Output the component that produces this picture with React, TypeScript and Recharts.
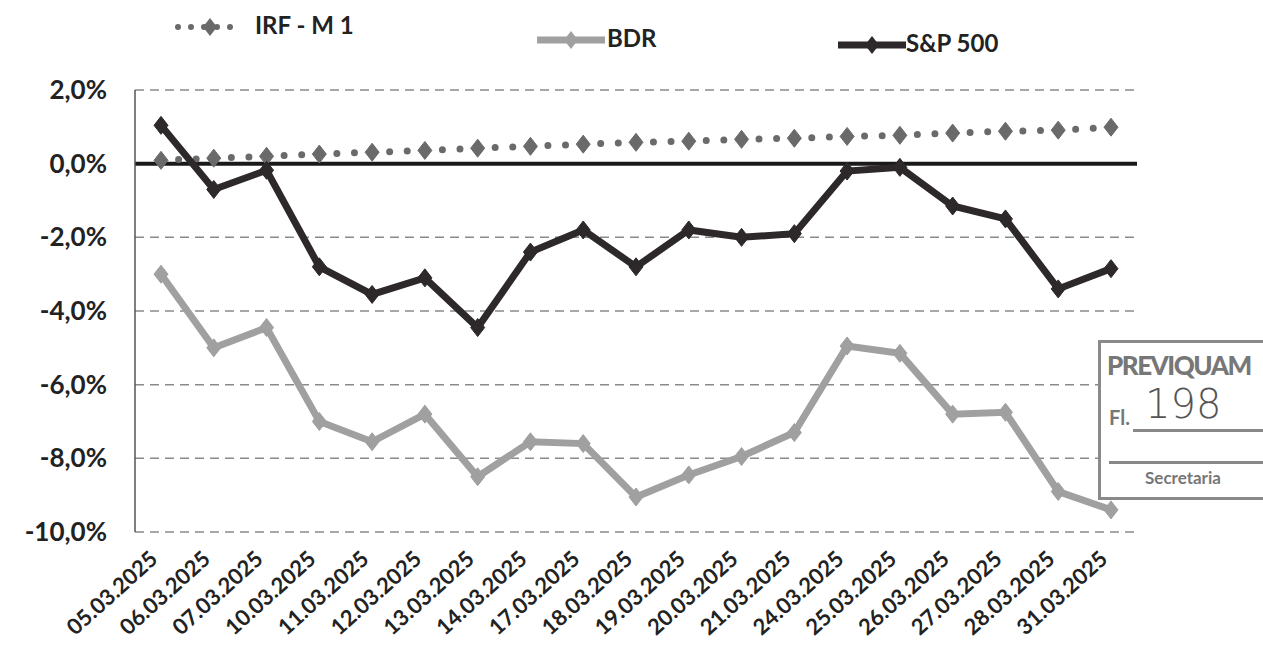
import React from 'react'
import { LineChart, Line, XAxis, YAxis, CartesianGrid, ReferenceLine } from 'recharts'

const dates = [
  '05.03.2025', '06.03.2025', '07.03.2025', '10.03.2025', '11.03.2025', '12.03.2025',
  '13.03.2025', '14.03.2025', '17.03.2025', '18.03.2025', '19.03.2025', '20.03.2025',
  '21.03.2025', '24.03.2025', '25.03.2025', '26.03.2025', '27.03.2025', '28.03.2025',
  '31.03.2025',
]
const irfM1 = [0.09, 0.15, 0.2, 0.26, 0.31, 0.36, 0.42, 0.47, 0.53, 0.58, 0.61, 0.66, 0.69, 0.74, 0.77, 0.83, 0.88, 0.91, 0.99]
const bdr = [-3.0, -5.0, -4.45, -7.0, -7.55, -6.8, -8.5, -7.55, -7.6, -9.05, -8.45, -7.95, -7.3, -4.95, -5.15, -6.8, -6.75, -8.9, -9.4]
const sp500 = [1.04, -0.7, -0.18, -2.8, -3.55, -3.1, -4.45, -2.4, -1.8, -2.8, -1.8, -2.0, -1.9, -0.2, -0.1, -1.15, -1.5, -3.4, -2.85]
const yTicks = [-10, -8, -6, -4, -2, 0, 2]

const data = dates.map((date, i) => ({ date, irf: irfM1[i], bdr: bdr[i], sp: sp500[i] }))

const FONT = 'Lato, "Open Sans", sans-serif'
const TEXT = '#222'
const SP_COLOR = '#2d2829'
const BDR_COLOR = '#a0a0a0'
const IRF_COLOR = '#6a6a6a'

function diamond(cx: number, cy: number, w: number, h: number) {
  return `M${cx},${cy - h} L${cx + w},${cy} L${cx},${cy + h} L${cx - w},${cy} Z`
}

function Marker(color: string) {
  return (props: any) => {
    const { cx, cy, index } = props
    if (cx == null || cy == null) return <g key={index} />
    return <path key={index} d={diamond(cx, cy, 7, 9)} fill={color} stroke={color} />
  }
}

function YTick(props: any) {
  const { x, y, payload } = props
  return (
    <text x={x - 20} y={y} dy={9} textAnchor="end" fontFamily={FONT} fontWeight="bold" fontSize={26} fill={TEXT}>
      {payload.value.toFixed(1).replace('.', ',') + '%'}
    </text>
  )
}

function XTick(props: any) {
  const { x, y, payload } = props
  return (
    <g transform={`translate(${x - 2},${y + 21})`}>
      <text transform="rotate(-42)" textAnchor="end" fontFamily={FONT} fontWeight="bold" fontSize={22} fill={TEXT}>
        {payload.value}
      </text>
    </g>
  )
}

function Legend() {
  const label = { fontFamily: FONT, fontWeight: 'bold' as const, fontSize: 24, color: TEXT, position: 'absolute' as const }
  return (
    <>
      <svg style={{ position: 'absolute', left: 170, top: 12 }} width={80} height={30}>
        <line x1={8} y1={15} x2={72} y2={15} stroke={IRF_COLOR} strokeWidth={6} strokeDasharray="0 13" strokeLinecap="round" />
        <path d={diamond(40, 15, 7, 9)} fill={IRF_COLOR} />
      </svg>
      <div style={{ ...label, left: 255, top: 10 }}>IRF - M 1</div>
      <svg style={{ position: 'absolute', left: 535, top: 25 }} width={72} height={30}>
        <line x1={2} y1={15} x2={70} y2={15} stroke={BDR_COLOR} strokeWidth={7} />
        <path d={diamond(36, 15, 7, 9)} fill={BDR_COLOR} />
      </svg>
      <div style={{ ...label, left: 607, top: 23 }}>BDR</div>
      <svg style={{ position: 'absolute', left: 836, top: 30 }} width={72} height={30}>
        <line x1={2} y1={15} x2={70} y2={15} stroke={SP_COLOR} strokeWidth={7} />
        <path d={diamond(36, 15, 7, 9)} fill={SP_COLOR} />
      </svg>
      <div style={{ ...label, left: 906, top: 28 }}>S&amp;P 500</div>
    </>
  )
}

function Stamp() {
  return (
    <div
      style={{
        position: 'absolute', left: 1098, top: 340, width: 165, height: 160,
        border: '3px solid #8a8a8a', borderRight: 'none', boxSizing: 'border-box', background: '#fff',
        fontFamily: FONT, color: '#777', overflow: 'hidden',
      }}
    >
      <div style={{ position: 'absolute', left: 6, top: 6, fontSize: 26, fontWeight: 900, letterSpacing: -1.5 }}>PREVIQUAM</div>
      <div style={{ position: 'absolute', left: 8, top: 62, fontSize: 20, fontWeight: 'bold' }}>Fl.</div>
      <div style={{ position: 'absolute', left: 44, top: 38, fontSize: 40, fontFamily: '"DejaVu Sans", sans-serif', color: '#555', fontWeight: 300 }}>198</div>
      <div style={{ position: 'absolute', left: 32, top: 86, width: 130, borderTop: '3px solid #888' }} />
      <div style={{ position: 'absolute', left: 8, top: 118, width: 154, borderTop: '3px solid #888' }} />
      <div style={{ position: 'absolute', left: 44, top: 124, fontSize: 17, fontWeight: 'bold' }}>Secretaria</div>
    </div>
  )
}

export default function App() {
  return (
    <div style={{ position: 'absolute', left: 0, top: 0, width: 1263, height: 650, background: '#fff' }}>
      <LineChart width={1263} height={650} data={data} margin={{ top: 90, right: 126, bottom: 0, left: 0 }}>
        <CartesianGrid vertical={false} stroke="#8a8a8a" strokeDasharray="9 6" strokeWidth={1.5} />
        <XAxis
          dataKey="date"
          interval={0}
          axisLine={false}
          tickLine={false}
          height={118}
          padding={{ left: 26, right: 26 }}
          tick={<XTick />}
        />
        <YAxis
          domain={[-10, 2]}
          ticks={yTicks}
          width={135}
          axisLine={{ stroke: '#555', strokeWidth: 1.5 }}
          tickLine={false}
          tick={<YTick />}
        />
        <ReferenceLine y={0} stroke="#1a1a1a" strokeWidth={4} />
        <Line
          type="linear"
          dataKey="irf"
          stroke={IRF_COLOR}
          strokeWidth={7}
          strokeDasharray="0 17.6"
          strokeLinecap="round"
          dot={Marker(IRF_COLOR)}
          isAnimationActive={false}
        />
        <Line type="linear" dataKey="bdr" stroke={BDR_COLOR} strokeWidth={7} dot={Marker(BDR_COLOR)} isAnimationActive={false} />
        <Line type="linear" dataKey="sp" stroke={SP_COLOR} strokeWidth={7} dot={Marker(SP_COLOR)} isAnimationActive={false} />
      </LineChart>
      <Legend />
      <Stamp />
    </div>
  )
}
